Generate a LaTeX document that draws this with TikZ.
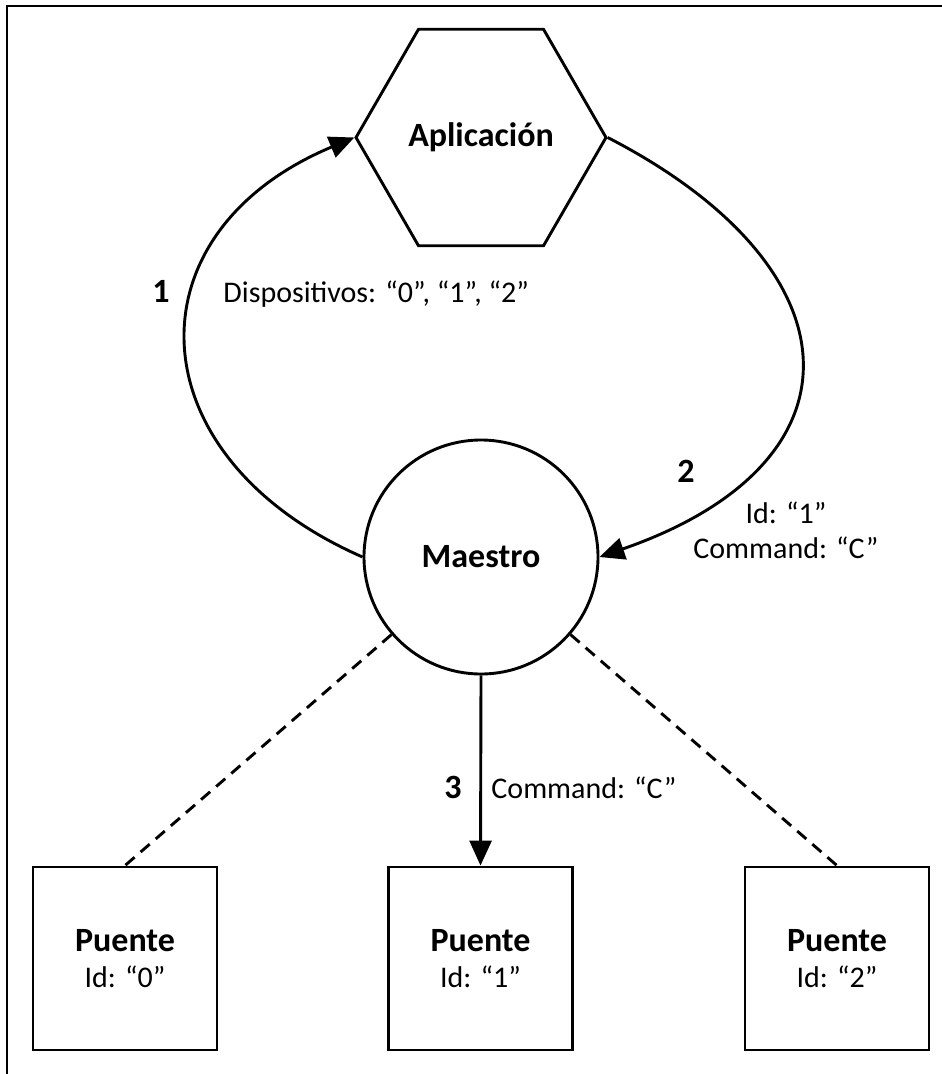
\documentclass[tikz,border=0pt]{standalone}
\usepackage{fontspec}
\setmainfont{Carlito}
\usetikzlibrary{shapes.geometric,arrows.meta}
\begin{document}
\begin{tikzpicture}[x=1pt,y=-1pt,
  line width=2.9pt,
  bold/.style={font=\fontsize{34}{38}\selectfont\bfseries},
  reg/.style={font=\fontsize{30}{35}\selectfont},
  lbl/.style={inner sep=0pt, anchor=base},
  flow/.style={-{Triangle[length=25pt,width=22pt]}},
  link/.style={dash pattern=on 12pt off 8pt},
  bridge/.style={draw, minimum width=184pt, minimum height=183pt, inner sep=0pt, align=center,
    font=\fontsize{30}{35}\selectfont}
]
\useasboundingbox (0,0) rectangle (942,1074);

% outer frame (left and top edges)
\draw (7,1074) -- (7,6) -- (942,6);

% application and master
\node[draw, regular polygon, regular polygon sides=6, minimum size=250pt, inner sep=0pt, bold] (apl) at (481,137.5) {Aplicación};
\node[draw, circle, minimum size=234pt, inner sep=0pt, bold] (mae) at (481,557) {Maestro};

% bridges
\node[bridge] (p0) at (125,958.5) {{\fontsize{34}{35}\selectfont\bfseries Puente}\\[1pt]Id: “0”};
\node[bridge] (p1) at (480.5,958.5) {{\fontsize{34}{35}\selectfont\bfseries Puente}\\[1pt]Id: “1”};
\node[bridge] (p2) at (837,958.5) {{\fontsize{34}{35}\selectfont\bfseries Puente}\\[1pt]Id: “2”};

% message flow
\draw[flow] (mae.west) .. controls (134,457) and (126,233) .. (apl.180);
\draw[flow] (apl.0) .. controls (861,268) and (871,463) .. (mae.east);
\draw[flow] (mae.south) -- (p1.north);
\draw[link] (mae) -- (p0.north);
\draw[link] (mae) -- (p2.north);

% step labels
\node[lbl, bold] (n1) at (161,302) {1};
\node[lbl, reg, anchor=base west] (t1) at (222,302) {Dispositivos: “0”, “1”, “2”};
\node[lbl, bold] (n2) at (686,482) {2};
\node[lbl, reg] (t2a) at (786,523) {Id: “1”};
\node[lbl, reg] (t2b) at (786,558) {Command: “C”};
\node[lbl, bold] (n3) at (453,798) {3};
\node[lbl, reg, anchor=base west] (t3) at (490,798) {Command: “C”};
\end{tikzpicture}
\end{document}
